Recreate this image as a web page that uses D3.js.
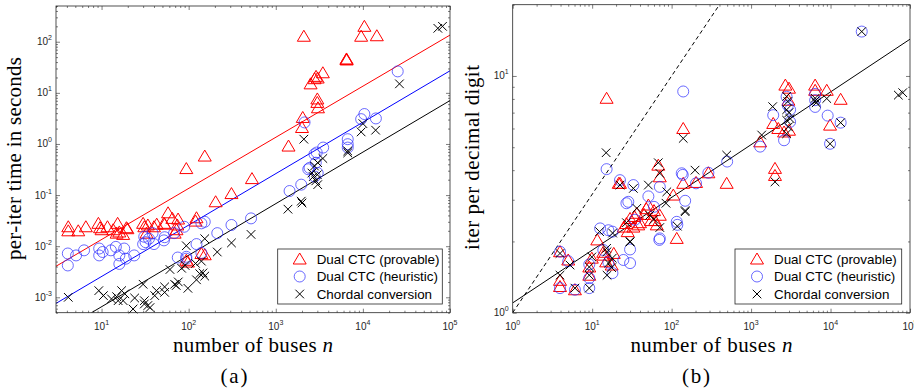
<!DOCTYPE html>
<html>
<head>
<meta charset="utf-8">
<script src="https://cdn.jsdelivr.net/npm/d3@7"></script>
<style>
html, body { margin: 0; padding: 0; background: #fff; }
svg { display: block; }
.serif { font-family: "Liberation Serif", "Times New Roman", serif; }
.sans { font-family: "Liberation Sans", Arial, sans-serif; }
</style>
</head>
<body>
<svg id="fig" width="914" height="389"></svg>
<script>
// (a) per-iteration time in seconds vs number of buses, [n, seconds]
const timeProvable = [
  [4.15,0.024],[4.15,0.020],[5.4,0.020],[6.6,0.024],[9.2,0.028],[9.6,0.023],[10,0.021],[11.7,0.024],
  [13.6,0.021],[15.3,0.028],[14.9,0.018],[16,0.019],[19.3,0.023],[19.8,0.022],[17.7,0.017],
  [30,0.028],[31,0.024],[34,0.026],[40,0.024],[43,0.027],[32.8,0.018],[53,0.027],[52,0.028],
  [58,0.045],[65,0.035],[75.6,0.034],[74,0.026],[72.5,0.021],[69,0.018],[120,0.031],[123,0.036],
  [94,0.0053],[98,0.0049],[140,0.0072],[153,0.0068],
  [204,0.074],[310,0.107],[533,0.21],[94,0.33],[153,0.58],[1400,0.91],[2000,2.1],[2040,3.3],
  [3000,7.6],[3000,6.5],[3050,5.1],[2510,15],[2790,18.9],[2900,21],[3030,19.5],[3470,24.7],
  [6468,45],[6495,46],[6515,44],[2100,128],[9550,128],[10400,200],[14450,131]
];
const timeHeuristic = [
  [4.1,0.0072],[4.1,0.0042],[5.1,0.0066],[6.3,0.0083],[9.4,0.009],[9.4,0.0066],[10.3,0.0077],
  [12.8,0.0083],[14.6,0.0097],[16,0.0066],[16,0.0045],[18.2,0.009],[19,0.0057],[23.7,0.0066],
  [30.9,0.0153],[32,0.012],[35,0.014],[40,0.011],[38.5,0.018],[30,0.011],[52,0.013],[53,0.015],
  [68,0.018],[89,0.024],[123,0.011],[140,0.028],[153,0.03],[213,0.018],[310,0.026],[520,0.035],
  [75,0.006],[94,0.0057],[94,0.0062],[140,0.0074],[1440,0.12],[1960,0.16],[2360,0.32],[2440,0.34],
  [2780,0.63],[2950,0.68],[2880,0.43],[3030,0.27],[2800,0.23],[3500,0.85],[6700,1.24],[6700,0.99],
  [6700,0.85],[2140,2.64],[9550,3.06],[10400,3.85],[14100,3.16],[25100,26.3]
];
const timeChordal = [
  [4.15,0.001],[9.3,0.00135],[10.5,0.00108],[13,0.00093],[14.9,0.00103],[17,0.00135],[15.5,0.00086],
  [17.7,0.00086],[18.5,0.00117],[24,0.00097],[23,0.00059],[30,0.0018],[31,0.00086],[34,0.00069],
  [31,0.00074],[36,0.00063],[42.7,0.00135],[40.8,0.00108],[53,0.0016],[53,0.00125],[69,0.0018],
  [76,0.002],[72,0.0017],[98,0.0015],[123,0.0022],[146,0.003],[153,0.0026],[61,0.0035],[83,0.0037],
  [94,0.0102],[120,0.0046],[153,0.014],[213,0.0077],[310,0.0116],[520,0.017],[91,0.0042],[140,0.0051],
  [134,0.0029],[1380,0.053],[1960,0.076],[2000,0.07],[2880,0.19],[3030,0.16],[2700,0.23],[3000,0.25],
  [2600,0.27],[2780,0.37],[3030,0.43],[3470,0.52],[6700,0.73],[6700,0.67],[2100,1.24],[9550,1.72],
  [10000,2.5],[14000,1.86],[26300,15],[72500,183],[82000,200]
];
// fitted lines, [n, seconds] end points
const timeFitProvable = [[3, 0.00405], [1e5, 135]];
const timeFitHeuristic = [[3, 0.00076], [1e5, 27]];
const timeFitChordal = [[7.67, 0.0005], [1e5, 7.06]];

// (b) iterations per decimal digit vs number of buses, [n, iterations]
const iterProvable = [
  [3.94,1.81],[5.0,1.67],[3.94,1.37],[3.94,1.29],[6.07,1.25],[9.9,1.7],[9.2,1.56],[9.2,1.44],
  [11.6,2.03],[15,1.64],[13.8,1.8],[17.6,1.59],[18.7,1.78],[14,1.75],[27,2.38],[36.5,2.63],[51,2.85],
  [71,2.58],[116,2.06],[105,3.14],[15.2,8.05],[21.6,3.52],[22.4,3.52],[68,4.2],[71,3.75],[140,6.0],
  [140,3.52],[203,3.55],[290,3.9],[493,3.52],[1300,5.27],[2000,4.07],[2000,3.8],[1900,6.3],
  [2700,9.15],[3000,8.88],[2950,7.9],[2200,6.0],[3000,5.9],[2600,5.8],[6400,9.15],[6400,8.7],
  [8960,8.7],[13400,7.97],[9860,6.2],[30,2.5],[33,2.3],[40,2.4],[45,2.6],[60,2.7],[55,2.45],
  [65,2.35],[28,2.2],[25,2.3],[34,2.55],[48,2.75],[62,2.45],[38,2.35]
];
const iterHeuristic = [
  [3.94,1.81],[5.0,1.65],[3.94,1.27],[6.07,1.25],[9.2,1.6],[9.2,1.4],[9.2,1.27],[12.6,2.27],[16,2.23],
  [18,2.2],[13.8,1.84],[16,1.63],[18,1.47],[24.7,1.67],[30,1.85],[30,1.62],[27,2.9],[51,3.1],[70,2.03],
  [118,2.35],[148,2.97],[34.6,2.47],[71,2.06],[116,2.42],[15.2,4.04],[140,8.6],[22.4,3.63],
  [33,3.46],[71,3.4],[134,3.88],[203,3.52],[290,3.9],[138,3.82],[500,4.35],[1300,5.03],[1900,6.83],
  [2600,5.35],[2800,8.17],[2900,7.5],[3100,7.2],[3100,6.4],[6400,8.4],[6400,7.9],[6400,7.4],
  [9200,6.8],[13400,6.35],[9860,5.17],[24700,15.4],[28.5,2.94],[60,2.8]
];
const iterChordal = [
  [3.94,1.78],[5.26,1.59],[3.94,1.44],[6.07,1.27],[9.9,1.72],[9.2,1.56],[9.2,1.44],[9.2,1.27],
  [12.4,2.2],[18.1,2.17],[15.2,1.87],[17.9,1.7],[16.1,1.62],[15.4,1.81],[15.4,1.44],[17.6,1.55],
  [27,2.4],[36.5,2.76],[30,2.0],[53,2.58],[60,2.48],[85,2.9],[118,2.32],[148,2.67],[15,4.74],
  [140,5.45],[68,4.3],[71,3.88],[197,4.0],[493,4.63],[22.4,3.46],[33,3.35],[51,3.46],[87,3.24],
  [71,2.29],[148,2.7],[30,1.99],[1360,5.63],[2000,3.57],[1870,7.42],[2800,8.2],[2900,7.8],
  [2800,7.2],[3000,7.0],[2800,6.5],[3100,6.6],[2950,6.1],[2800,5.7],[6400,8.05],[6400,7.85],
  [6600,7.7],[8960,8.03],[13400,6.35],[9860,5.17],[24700,15.4],[71300,8.3],[81000,8.5]
];
const iterFit = [[1, 1.1], [1e5, 14.3]];
const iterSqrt = [[1, 1], [400, 20]];

const legendLabels = ['Dual CTC (provable)', 'Dual CTC (heuristic)', 'Chordal conversion'];

const axisColor = '#262626';
const svg = d3.select('#fig');

const tri = 'M0,-6L6.5,5L-6.5,5Z';
const cross = 'M-4.3,-4.3L4.3,4.3M-4.3,4.3L4.3,-4.3';

function drawMarks(g, data, x, y, kind) {
  const sel = g.append('g').selectAll('path').data(data).join('path')
    .attr('transform', d => `translate(${x(d[0])},${y(d[1])})`)
    .attr('fill', 'none');
  if (kind === 'tri') sel.attr('d', tri).attr('stroke', '#ff0000').attr('stroke-width', 1);
  if (kind === 'circ') sel.attr('d', d3.symbol(d3.symbolCircle, 95)()).attr('stroke', '#2a2aff').attr('stroke-width', 0.7);
  if (kind === 'x') sel.attr('d', cross).attr('stroke', '#000').attr('stroke-width', 1);
}

function supLabel(g, x, y, exp, anchor) {
  const t = g.append('text').attr('class', 'sans').attr('x', x).attr('y', y)
    .attr('text-anchor', anchor)
    .attr('font-size', 10).attr('fill', axisColor);
  t.append('tspan').text('10');
  t.append('tspan').attr('font-size', 7).attr('dy', -5).text(exp);
}

function frame(g, x, y) {
  const [xa, xb] = x.range(), [yb, ya] = y.range();
  const isMajor = v => Math.abs(Math.log10(v) - Math.round(Math.log10(v))) < 1e-6;
  const xt = x.ticks(), yt = y.ticks();
  const sides = [
    [d3.axisTop(x), `translate(0,${yb})`, xt],
    [d3.axisBottom(x), `translate(0,${ya})`, xt],
    [d3.axisRight(y), `translate(${xa},0)`, yt],
    [d3.axisLeft(y), `translate(${xb},0)`, yt]
  ];
  sides.forEach(([ax, tr, ticks]) => {
    [[ticks.filter(isMajor), 4], [ticks.filter(v => !isMajor(v)), 2]].forEach(([vals, len]) => {
      const a = g.append('g').attr('transform', tr)
        .call(ax.tickValues(vals).tickSize(len).tickFormat(''));
      a.select('.domain').remove();
      a.selectAll('line').attr('stroke', axisColor).attr('stroke-width', 0.6);
    });
  });
  g.append('rect').attr('x', xa).attr('y', ya).attr('width', xb - xa).attr('height', yb - ya)
    .attr('fill', 'none').attr('stroke', axisColor).attr('stroke-width', 0.8);
  xt.filter(isMajor).forEach(v => supLabel(g, x(v), yb + 17.5, Math.round(Math.log10(v)), 'middle'));
  yt.filter(isMajor).forEach(v => supLabel(g, xa - 4, y(v) + 3.5, Math.round(Math.log10(v)), 'end'));
}

function clip(id, x, y) {
  const [xa, xb] = x.range(), [yb, ya] = y.range();
  svg.append('clipPath').attr('id', id).append('rect')
    .attr('x', xa).attr('y', ya).attr('width', xb - xa).attr('height', yb - ya);
}

function legend(g, left, top, w, h) {
  g.append('rect').attr('x', left).attr('y', top).attr('width', w).attr('height', h)
    .attr('fill', '#fff').attr('stroke', axisColor).attr('stroke-width', 0.8);
  const kinds = ['tri', 'circ', 'x'];
  legendLabels.forEach((lab, i) => {
    const cy = top + 10 + i * 17.5;
    drawMarks(g, [[0, 0]], () => left + 22, () => cy, kinds[i]);
    g.append('text').attr('class', 'sans').attr('x', left + 39).attr('y', cy + 4.5)
      .attr('font-size', 13.4).attr('fill', '#000').text(lab);
  });
}

function serif(g, txt, x, y, len, rot, italicTail) {
  const t = g.append('text').attr('class', 'serif')
    .attr('transform', `translate(${x},${y})` + (rot ? ' rotate(-90)' : ''))
    .attr('text-anchor', 'middle')
    .attr('font-size', 21).attr('fill', '#000')
    .attr('textLength', len).attr('lengthAdjust', 'spacing');
  t.append('tspan').text(txt);
  if (italicTail) t.append('tspan').attr('font-style', 'italic').text(italicTail);
}

// ---------- panel (a)
const xA = d3.scaleLog().domain([3, 1e5]).range([56, 450]);
const yA = d3.scaleLog().domain([5e-4, 500]).range([312.7, 6]);
clip('clipA', xA, yA);
const gA = svg.append('g');
const lineA = d3.line().x(d => xA(d[0])).y(d => yA(d[1]));
[[timeFitProvable, '#ff0000'], [timeFitHeuristic, '#0000ff'], [timeFitChordal, '#000']].forEach(([d, c]) => {
  gA.append('path').attr('d', lineA(d)).attr('stroke', c).attr('stroke-width', 1)
    .attr('fill', 'none').attr('clip-path', 'url(#clipA)');
});
drawMarks(gA, timeProvable, xA, yA, 'tri');
drawMarks(gA, timeHeuristic, xA, yA, 'circ');
drawMarks(gA, timeChordal, xA, yA, 'x');
frame(gA, xA, yA);
legend(gA, 277.7, 249, 164.6, 55);
serif(gA, 'per-iter time in seconds', 21, 158.5, 203, true);
serif(gA, 'number of buses ', 253, 352, 160, false, 'n');
serif(gA, '(a)', 234, 382.5, 27, false);

// ---------- panel (b)
const xB = d3.scaleLog().domain([1, 1e5]).range([512.7, 910]);
const yB = d3.scaleLog().domain([1, 20]).range([312.7, 4.7]);
clip('clipB', xB, yB);
const gB = svg.append('g');
const lineB = d3.line().x(d => xB(d[0])).y(d => yB(d[1]));
gB.append('path').attr('d', lineB(iterSqrt)).attr('stroke', '#000').attr('stroke-width', 1)
  .attr('stroke-dasharray', '4,3').attr('fill', 'none').attr('clip-path', 'url(#clipB)');
gB.append('path').attr('d', lineB(iterFit)).attr('stroke', '#000').attr('stroke-width', 1)
  .attr('fill', 'none').attr('clip-path', 'url(#clipB)');
drawMarks(gB, iterProvable, xB, yB, 'tri');
drawMarks(gB, iterHeuristic, xB, yB, 'circ');
drawMarks(gB, iterChordal, xB, yB, 'x');
frame(gB, xB, yB);
legend(gB, 735, 249, 166.7, 55);
serif(gB, 'iter per decimal digit', 479, 157.5, 185, true);
serif(gB, 'number of buses ', 711.4, 352, 162, false, 'n');
serif(gB, '(b)', 696, 382.5, 28, false);
</script>
</body>
</html>
